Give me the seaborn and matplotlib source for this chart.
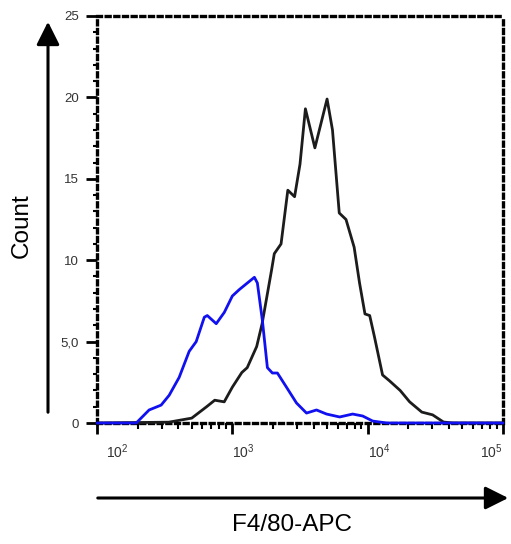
import numpy as np
import pandas as pd
import seaborn as sns
import matplotlib
matplotlib.use("Agg")
import matplotlib.pyplot as plt
from matplotlib.ticker import LogLocator, MultipleLocator, FixedLocator
from matplotlib.transforms import ScaledTranslation

# ---- data (log10 of F4/80-APC intensity, count) ----
black_log = [2.0, 2.53, 2.70, 2.81, 2.87, 2.94, 3.0, 3.07, 3.11, 3.18, 3.22, 3.29, 3.31,
             3.36, 3.41, 3.46, 3.50, 3.54, 3.61, 3.70, 3.74, 3.79, 3.84, 3.90, 3.94,
             3.98, 4.015, 4.05, 4.11, 4.16, 4.24, 4.31, 4.40, 4.48, 4.56, 4.63, 5.0]
black_cnt = [0.0, 0.05, 0.3, 1.0, 1.4, 1.3, 2.2, 3.1, 3.4, 4.7, 6.1, 9.4, 10.4,
             11.0, 14.3, 13.9, 15.9, 19.3, 16.9, 19.9, 18.0, 12.9, 12.5, 10.8, 8.6,
             6.7, 6.6, 5.3, 2.95, 2.6, 2.0, 1.3, 0.67, 0.5, 0.06, 0.0, 0.0]

blue_log = [2.0, 2.29, 2.385, 2.474, 2.533, 2.607, 2.681, 2.733, 2.793, 2.815, 2.881,
            2.941, 3.0, 3.052, 3.111, 3.163, 3.185, 3.222, 3.259, 3.296, 3.333, 3.40,
            3.474, 3.548, 3.622, 3.696, 3.793, 3.889, 3.963, 4.037, 4.141, 5.0]
blue_cnt = [0.0, 0.0, 0.8, 1.1, 1.7, 2.8, 4.4, 5.0, 6.5, 6.6, 6.1,
            6.8, 7.8, 8.2, 8.6, 8.95, 8.6, 6.3, 3.4, 3.07, 3.07, 2.2,
            1.23, 0.61, 0.8, 0.55, 0.37, 0.55, 0.43, 0.12, 0.0, 0.0]

y_ticks = [0, 5, 10, 15, 20, 25]
y_tick_labels = ["0", "5,0", "10", "15", "20", "25"]
x_ticks = [1e2, 1e3, 1e4, 1e5]
x_tick_labels = [r"$10^2$", r"$10^3$", r"$10^4$", r"$10^5$"]

df = pd.concat([
    pd.DataFrame({"x": np.power(10.0, black_log), "count": black_cnt, "s": "black"}),
    pd.DataFrame({"x": np.power(10.0, blue_log), "count": blue_cnt, "s": "blue"}),
])

sns.set_style("white")
plt.rcParams["font.family"] = ["Liberation Sans", "DejaVu Sans"]
plt.rcParams["mathtext.fontset"] = "custom"
plt.rcParams["mathtext.rm"] = "Liberation Sans"
plt.rcParams["mathtext.it"] = "Liberation Sans"

fig = plt.figure(figsize=(5.11, 5.44), dpi=100)
ax = fig.add_axes([97 / 511, 121 / 544, (503 - 97) / 511, (423 - 16) / 544])

sns.lineplot(data=df[df.s == "black"], x="x", y="count", sort=False, estimator=None,
             color="#1c1c1c", lw=2.0, ax=ax, clip_on=False, zorder=3)
sns.lineplot(data=df[df.s == "blue"], x="x", y="count", sort=False, estimator=None,
             color="#1010f0", lw=2.0, ax=ax, clip_on=False, zorder=4)

ax.set_xscale("log")
ax.set_xlim(1e2, 1e5)
ax.set_ylim(0, 25)
ax.set_xlabel("")
ax.set_ylabel("")

for side in ["left", "right", "top", "bottom"]:
    sp = ax.spines[side]
    sp.set_visible(True)
    sp.set_color("black")
    sp.set_linewidth(2.4)
    sp.set_linestyle((0, (1.2, 1.4)))

ax.yaxis.set_major_locator(FixedLocator(y_ticks))
ax.set_yticklabels(y_tick_labels)
ax.yaxis.set_minor_locator(MultipleLocator(1))
ax.xaxis.set_major_locator(FixedLocator(x_ticks))
ax.set_xticklabels(x_tick_labels)
ax.xaxis.set_minor_locator(LogLocator(base=10, subs=np.arange(2, 10)))

ax.tick_params(axis="y", which="major", direction="out", length=8, width=2,
               color="black", labelsize=9.5, labelcolor="#333333", pad=5, left=True)
ax.tick_params(axis="y", which="minor", direction="out", length=3, width=1.5,
               color="black", left=True)
ax.tick_params(axis="x", which="major", direction="out", length=8, width=2,
               color="black", labelsize=10, labelcolor="#333333", pad=6, bottom=True)
ax.tick_params(axis="x", which="minor", direction="out", length=4, width=1.5,
               color="black", bottom=True)

labels = ax.get_xticklabels()
for i, lab in enumerate(labels):
    if i == len(labels) - 1:
        lab.set_ha("right")
    else:
        lab.set_ha("left")
    if i == 0:
        lab.set_transform(lab.get_transform() + ScaledTranslation(9 / 100, 0, fig.dpi_scale_trans))

# arrows
fig.add_artist(matplotlib.patches.FancyArrowPatch(
    (48 / 511, 1 - 415 / 544), (48 / 511, 1 - 19 / 544), transform=fig.transFigure,
    arrowstyle="-|>,head_length=1.0,head_width=0.5", mutation_scale=14,
    color="black", lw=2.2))
fig.add_artist(matplotlib.patches.FancyArrowPatch(
    (95 / 511, 1 - 498 / 544), (511 / 511, 1 - 498 / 544), transform=fig.transFigure,
    arrowstyle="-|>,head_length=1.0,head_width=0.5", mutation_scale=14,
    color="black", lw=2.2))

fig.text(22 / 511, 1 - 226 / 544, "Count", rotation=90, ha="center", va="center",
         fontsize=17.5, color="black")
fig.text(292 / 511, 1 - 525 / 544, "F4/80-APC", ha="center", va="center",
         fontsize=17.5, color="black")

fig.savefig("out.png", dpi=100, facecolor="white")
